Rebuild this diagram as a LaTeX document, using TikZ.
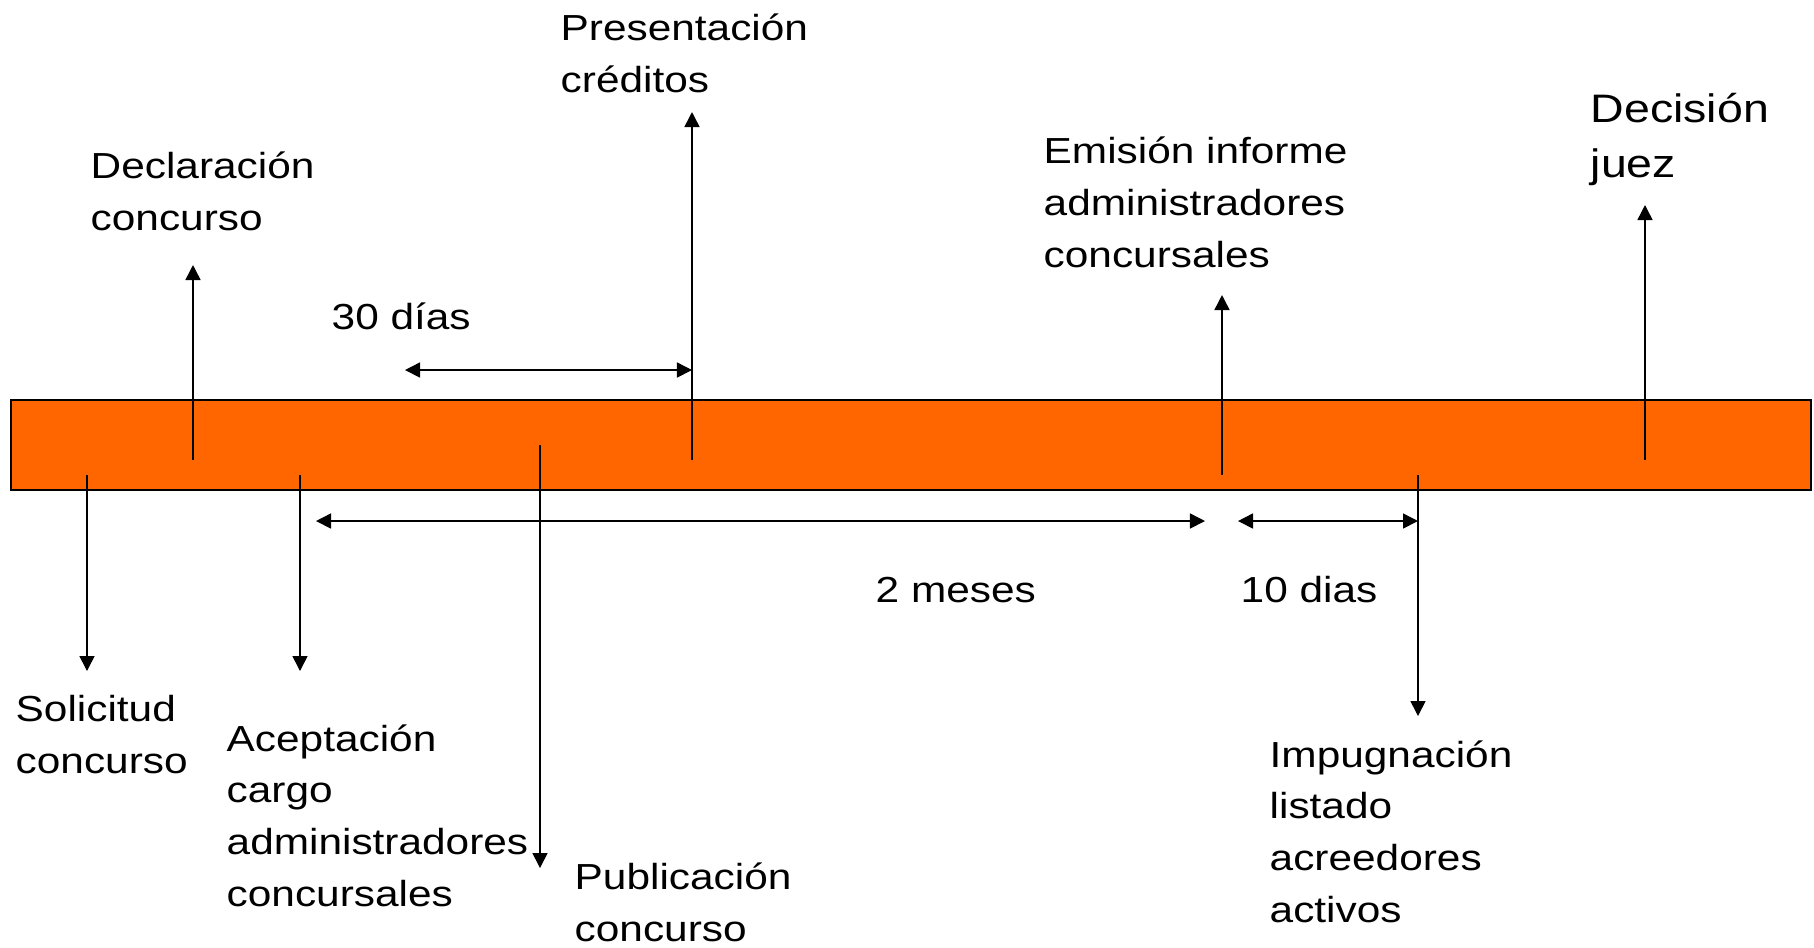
\documentclass[tikz,border=0pt]{standalone}
\usepackage{fontspec}
\setmainfont{Liberation Sans}[FakeStretch=1.17]
\usetikzlibrary{arrows.meta}
\definecolor{naranja}{HTML}{FF6600}
\tikzset{
	hito/.style={anchor=base west, align=left, inner sep=0pt, font=\fontsize{10.3}{14.65}\selectfont},
	flecha/.style={-{Triangle[length=1.5mm,width=1.5mm]}, line width=0.45pt},
	plazo/.style={{Triangle[length=1.5mm,width=1.5mm]}-{Triangle[length=1.5mm,width=1.5mm]}, line width=0.45pt}
}

\begin{document}
\begin{tikzpicture}[x=0.01cm,y=-0.01cm]
	\useasboundingbox (0,0) rectangle (1814,947);
	% la barra del proceso
	\filldraw[fill=naranja, draw=black, line width=0.6pt] (11,400) rectangle (1811,490);
	% puntos en la barra
	\coordinate (sol) at (87,475);
	\coordinate (dec) at (193,460);
	\coordinate (ace) at (300,475);
	\coordinate (pub) at (540,445);
	\coordinate (pre) at (692,460);
	\coordinate (emi) at (1222,475);
	\coordinate (imp) at (1418,475);
	\coordinate (jue) at (1645,460);
	% puntas de las flechas
	\coordinate (solp) at (87,671);
	\coordinate (decp) at (193,265);
	\coordinate (acep) at (300,671);
	\coordinate (pubp) at (540,868);
	\coordinate (prep) at (692,112);
	\coordinate (emip) at (1222,295);
	\coordinate (impp) at (1418,716);
	\coordinate (juep) at (1645,205);
	% plazos
	\coordinate (t30a) at (405,370);
	\coordinate (t30b) at (692,370);
	\coordinate (m2a) at (316,521);
	\coordinate (m2b) at (1205,521);
	\coordinate (d10a) at (1238,521);
	\coordinate (d10b) at (1418,521);

	% textos (base = ultima linea)
	\node[hito] (solicitud) at (15,773) {Solicitud\\concurso};
	\node[hito] (declaracion) at (90,230) {Declaración\\concurso};
	\node[hito] (aceptacion) at (226,906) {Aceptación\\cargo\\administradores\\concursales};
	\node[hito] (publicacion) at (574,941) {Publicación\\concurso};
	\node[hito] (presentacion) at (560,92) {Presentación\\créditos};
	\node[hito] (emision) at (1043,267) {Emisión informe\\administradores\\concursales};
	\node[hito] (impugnacion) at (1269,922) {Impugnación\\listado\\acreedores\\activos};
	\node[hito, font=\fontsize{11.3}{15.6}\selectfont] (decision) at (1590,177) {Decisión\\juez};
	\node[hito] (dias30) at (331,329) {30 días};
	\node[hito] (meses2) at (875,602) {2 meses};
	\node[hito] (dias10) at (1240,602) {10 dias};

	\draw[flecha] (sol) -- (solp);
	\draw[flecha] (dec) -- (decp);
	\draw[flecha] (ace) -- (acep);
	\draw[flecha] (pub) -- (pubp);
	\draw[flecha] (pre) -- (prep);
	\draw[flecha] (emi) -- (emip);
	\draw[flecha] (imp) -- (impp);
	\draw[flecha] (jue) -- (juep);
	\draw[plazo] (t30a) -- (t30b);
	\draw[plazo] (m2a) -- (m2b);
	\draw[plazo] (d10a) -- (d10b);
\end{tikzpicture}
\end{document}
